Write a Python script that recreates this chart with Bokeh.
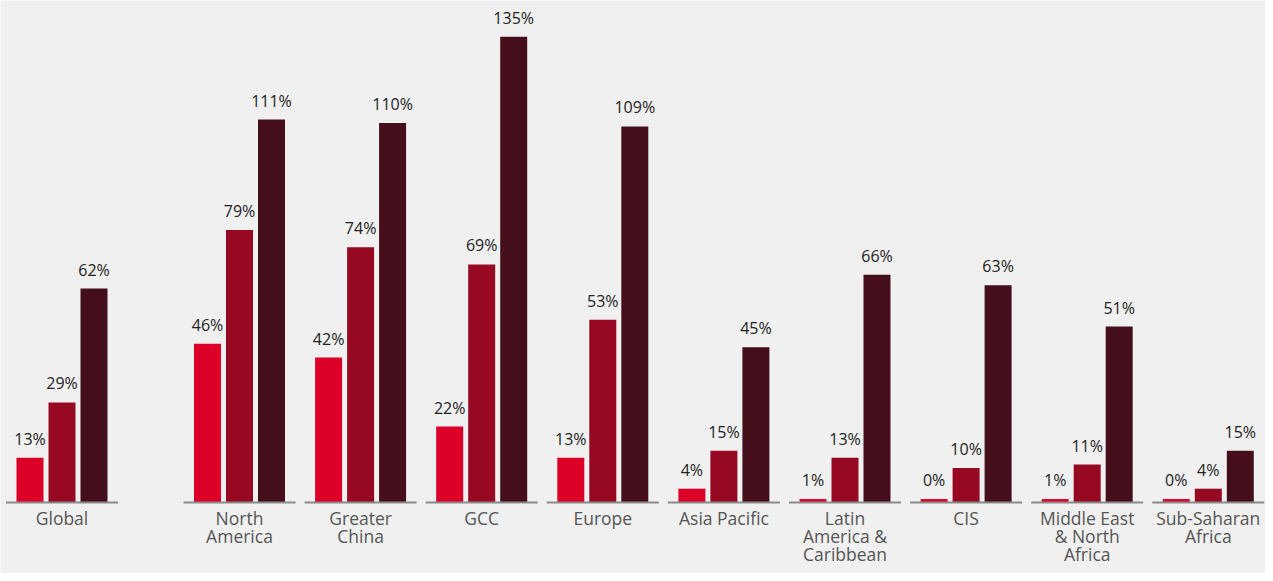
import numpy as np
from bokeh.plotting import figure
from bokeh.models import Range1d, ColumnDataSource
from bokeh.core.properties import value
from bokeh.embed import file_html
from bokeh.resources import INLINE

categories = ["Global", "North\nAmerica", "Greater\nChina", "GCC", "Europe", "Asia Pacific",
              "Latin\nAmerica &\nCaribbean", "CIS", "Middle East\n& North\nAfrica", "Sub-Saharan\nAfrica"]
series_a = [13, 46, 42, 22, 13, 4, 1, 0, 1, 0]
series_b = [29, 79, 74, 69, 53, 15, 13, 10, 11, 4]
series_c = [62, 111, 110, 135, 109, 45, 66, 63, 51, 15]
colors = ["#dc0029", "#970823", "#440f1a"]

BG = "#f0f0f0"
W, H = 1265, 573
n = len(categories)
# layout: group centers in pixel-like x units (Global separated by a wider gap)
pitch = 121.1
centers = np.array([61.5] + [239 + pitch * (i - 1) for i in range(1, n)])
offsets = [-32, 0, 32]
bar_w = 27
px_per_unit = 3.45
base_px = 502

p = figure(width=W, height=H, output_backend="svg", toolbar_location=None,
           x_range=Range1d(0, W),
           y_range=Range1d(-(H - base_px) / px_per_unit, base_px / px_per_unit),
           min_border=0, min_border_left=0, min_border_right=0,
           min_border_top=0, min_border_bottom=0)
p.background_fill_color = BG
p.border_fill_color = BG
p.outline_line_color = None
p.axis.visible = False
p.grid.visible = False

for k, (vals, col) in enumerate(zip([series_a, series_b, series_c], colors)):
    vals = np.array(vals, dtype=float)
    src = ColumnDataSource(dict(
        x=centers + offsets[k],
        top=np.maximum(vals, 1.0),
        label=[f"{int(v)}%" for v in vals],
    ))
    p.vbar(x="x", top="top", bottom=0, width=bar_w, source=src,
           fill_color=col, line_color=None)
    p.text(x="x", y="top", text="label", source=src, text_align="center",
           text_baseline="bottom", y_offset=-8, text_font=value("Open Sans"),
           text_font_size="16px", text_color="#222222")

p.segment(x0=centers - 56, x1=centers + 56, y0=0, y1=0,
          line_color="#8a8a8a", line_width=2)

p.text(x=centers, y=[0] * n, text=categories, text_align="center",
       text_baseline="top", y_offset=3, text_font=value("Open Sans"),
       text_font_size="17.5px", text_color="#555555", text_line_height=0.76)

open("out.html", "w").write(file_html(p, INLINE))
